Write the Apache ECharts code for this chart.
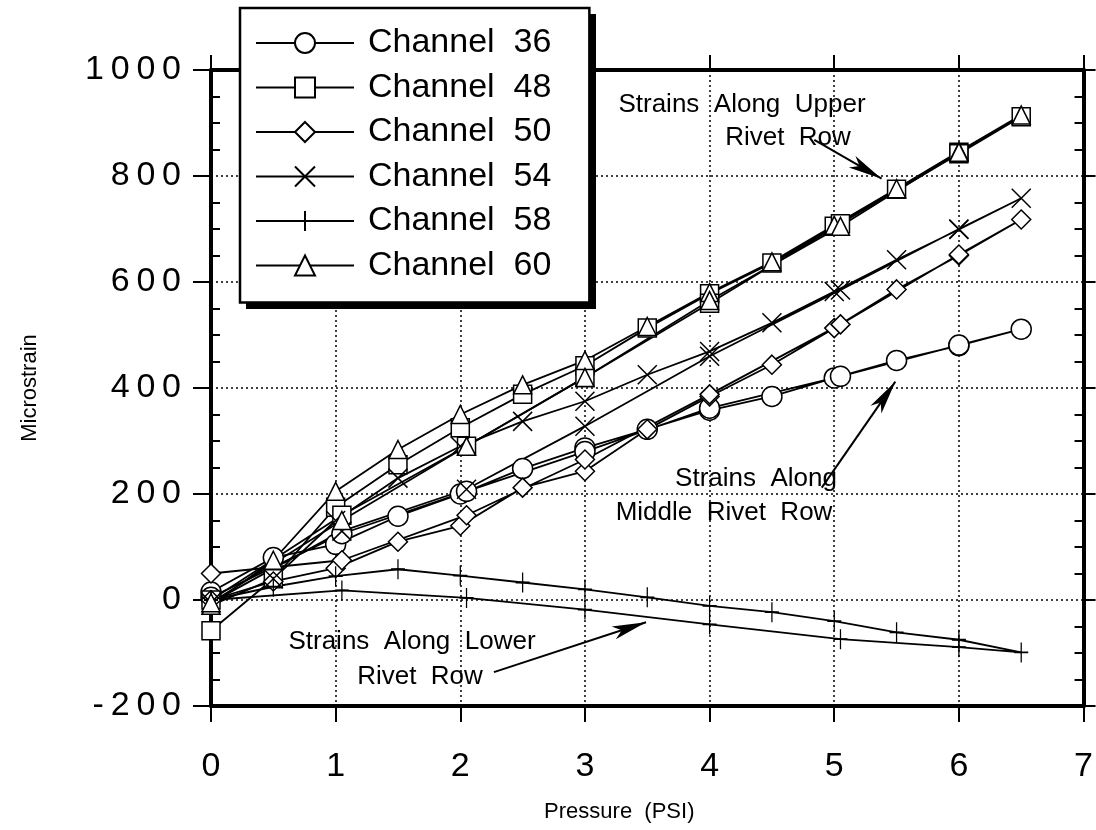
<!DOCTYPE html>
<html>
<head>
<meta charset="utf-8">
<title>Microstrain vs Pressure</title>
<script src="https://cdn.jsdelivr.net/npm/echarts@6/dist/echarts.min.js"></script>
<style>
html, body { margin: 0; padding: 0; background: #fff; }
#main { width: 1096px; height: 830px; }
</style>
</head>
<body>
<div id="main"></div>
<script>
// pressure steps (PSI): loading every 0.5, unloading every 1
var pressureUp = [0, 0.5, 1, 1.5, 2, 2.5, 3, 3.5, 4, 4.5, 5, 5.5, 6, 6.5];
var pressureDown = [6, 5.05, 4, 3, 2.05, 1.05, 0];

// microstrain
var ch36Up = [15, 80, 105, 158, 200, 248, 287, 322, 358, 384, 419, 452, 480, 511];
var ch36Down = [481, 422, 362, 280, 205, 125, 5];
var ch48Up = [-58, 40, 175, 255, 325, 388, 442, 513, 578, 636, 705, 775, 845, 912];
var ch48Down = [842, 710, 560, 420, 290, 160, 0];
var ch50Up = [0, 35, 60, 110, 140, 212, 243, 322, 384, 444, 513, 586, 650, 718];
var ch50Down = [652, 520, 388, 265, 160, 75, 50];
var ch54Up = [-10, 40, 150, 230, 290, 337, 375, 425, 469, 523, 582, 642, 699, 758];
var ch54Down = [700, 585, 460, 328, 209, 130, -5];
var ch58Up = [0, 25, 45, 58, 46, 33, 20, 5, -11, -23, -40, -61, -75, -99];
var ch58Down = [-89, -74, -46, -18, 4, 18, 0];
var ch60Up = [-10, 75, 205, 284, 350, 406, 452, 516, 580, 638, 707, 776, 846, 915];
var ch60Down = [845, 705, 565, 420, 290, 150, -5];

var channelNames = ['Channel 36', 'Channel 48', 'Channel 50', 'Channel 54', 'Channel 58', 'Channel 60'];

// tick labels
var xTickLabels = ['0', '1', '2', '3', '4', '5', '6', '7'];
var yTickLabels = ['-200', '0', '200', '400', '600', '800', '1000'];

// arrows of the three annotations, in data coordinates [pressure, microstrain]
var arrowUpper = [[4.84, 868], [5.38, 795]];
var arrowMiddle = [[4.9, 212], [5.49, 412]];
var arrowLower = [[2.27, -136], [3.49, -42]];

var font = 'Liberation Sans, Arial, Helvetica, sans-serif';

function joinRuns(up, down) {
    var pts = [];
    for (var i = 0; i < up.length; i++) pts.push([pressureUp[i], up[i]]);
    for (var j = 0; j < down.length; j++) pts.push([pressureDown[j], down[j]]);
    return pts;
}

var crossPath = 'path://M0 0L10 10M10 0L0 10';
var plusPath = 'path://M5 0L5 10M0 5L10 5';

var channels = [
    { data: joinRuns(ch36Up, ch36Down), symbol: 'circle', size: 20 },
    { data: joinRuns(ch48Up, ch48Down), symbol: 'rect', size: 18 },
    { data: joinRuns(ch50Up, ch50Down), symbol: 'diamond', size: 19 },
    { data: joinRuns(ch54Up, ch54Down), symbol: crossPath, size: 19 },
    { data: joinRuns(ch58Up, ch58Down), symbol: plusPath, size: [14, 20] },
    { data: joinRuns(ch60Up, ch60Down), symbol: 'triangle', size: 18 }
];

var series = channels.map(function (c, i) {
    return {
        name: channelNames[i],
        type: 'line',
        data: c.data,
        symbol: c.symbol,
        symbolSize: c.size,
        showSymbol: true,
        lineStyle: { color: '#000', width: 1.8 },
        itemStyle: { color: '#fff', borderColor: '#000', borderWidth: 1.5 },
        emphasis: { disabled: true },
        z: 3
    };
});

function arrowItem(a) {
    return [{ coord: a[0] }, { coord: a[1] }];
}

series.push({
    name: 'annotations',
    type: 'line',
    data: [],
    itemStyle: { color: '#000' },
    markLine: {
        silent: true,
        animation: false,
        symbol: ['none', 'arrow'],
        symbolSize: [10, 34],
        label: { show: false },
        itemStyle: { color: '#000' },
        lineStyle: { color: '#000', width: 2, type: 'solid' },
        data: [arrowItem(arrowUpper), arrowItem(arrowMiddle), arrowItem(arrowLower)]
    }
});

var dotted = { show: true, lineStyle: { color: '#000', width: 1.5, type: [2, 3] } };
var yLabelFmt = function (v) { return String(v).split('').join('\u2009'); };

function annText(txt, x, y) {
    return {
        type: 'text', x: x, y: y, z: 10,
        style: { text: txt, fill: '#000', font: '26px ' + font, align: 'center', verticalAlign: 'middle' }
    };
}

var chart = echarts.init(document.getElementById('main'), null, { renderer: 'canvas' });
var option = {
    animation: false,
    backgroundColor: '#fff',
    grid: { left: 211, right: 12, top: 70, bottom: 124 },
    legend: {
        data: channelNames,
        orient: 'vertical',
        left: 240, top: 8,
        padding: [18, 38, 20, 15],
        itemWidth: 98, itemHeight: 25, itemGap: 10.5,
        backgroundColor: '#fff',
        borderColor: '#000', borderWidth: 2.5, borderRadius: 0,
        selectedMode: false,
        z: 5,
        formatter: function (name) { return name.replace(' ', '  '); },
        textStyle: { fontSize: 34, color: '#000', fontFamily: font, padding: [0, 0, 0, 9] }
    },
    xAxis: [
        {
            type: 'value', position: 'bottom', min: 0, max: 7, interval: 1,
            name: 'Pressure  (PSI)', nameLocation: 'middle', nameGap: 95,
            nameTextStyle: { fontSize: 22, color: '#000', fontFamily: font, padding: [0, 56, 0, 0] },
            axisLine: { onZero: false, lineStyle: { color: '#000', width: 4 } },
            axisTick: { show: true, length: 16, lineStyle: { color: '#000', width: 2 } },
            axisLabel: {
                margin: 44, fontSize: 34, color: '#000', fontFamily: font,
                formatter: function (v) { return xTickLabels[v]; }
            },
            splitLine: dotted
        },
        {
            type: 'value', position: 'top', min: 0, max: 7, interval: 1,
            axisLine: { onZero: false, lineStyle: { color: '#000', width: 4 } },
            axisTick: { show: true, length: 15, lineStyle: { color: '#000', width: 2 } },
            axisLabel: { show: false },
            splitLine: { show: false }
        }
    ],
    yAxis: [
        {
            type: 'value', position: 'left', min: -200, max: 1000, interval: 200,
            name: 'Microstrain', nameLocation: 'middle', nameGap: 170,
            nameTextStyle: { fontSize: 22, color: '#000', fontFamily: font },
            axisLine: { onZero: false, lineStyle: { color: '#000', width: 4 } },
            axisTick: { show: true, length: 18, lineStyle: { color: '#000', width: 2 } },
            axisLabel: {
                margin: 30, fontSize: 34, color: '#000', fontFamily: font,
                formatter: function (v) {
                    var i = yTickLabels.indexOf(String(v));
                    return yLabelFmt(i >= 0 ? yTickLabels[i] : v);
                }
            },
            splitLine: dotted
        },
        {
            type: 'value', position: 'left', min: -200, max: 1000, interval: 200,
            axisLine: { show: false, onZero: false },
            axisTick: { show: false, inside: true },
            minorTick: { show: true, splitNumber: 4, length: 9, lineStyle: { color: '#000', width: 2 } },
            axisLabel: { show: false },
            splitLine: { show: false }
        },
        {
            type: 'value', position: 'right', min: -200, max: 1000, interval: 200,
            axisLine: { onZero: false, lineStyle: { color: '#000', width: 4 } },
            axisTick: { show: true, length: 12, lineStyle: { color: '#000', width: 2 } },
            axisLabel: { show: false },
            splitLine: { show: false }
        },
        {
            type: 'value', position: 'right', min: -200, max: 1000, interval: 200,
            axisLine: { show: false, onZero: false },
            axisTick: { show: false, inside: true },
            minorTick: { show: true, splitNumber: 4, length: 9, lineStyle: { color: '#000', width: 2 } },
            axisLabel: { show: false },
            splitLine: { show: false }
        }
    ],
    graphic: [
        // drop shadow behind the legend box
        { type: 'rect', z: 4, shape: { x: 246, y: 14, width: 350, height: 295 }, style: { fill: '#000' } },
        annText('Strains  Along  Upper', 742, 105),
        annText('Rivet  Row', 788, 138),
        annText('Strains  Along', 756, 479),
        annText('Middle  Rivet  Row', 724, 513),
        annText('Strains  Along  Lower', 412, 642),
        annText('Rivet  Row', 420, 677)
    ],
    series: series
};
chart.setOption(option);
</script>
</body>
</html>
